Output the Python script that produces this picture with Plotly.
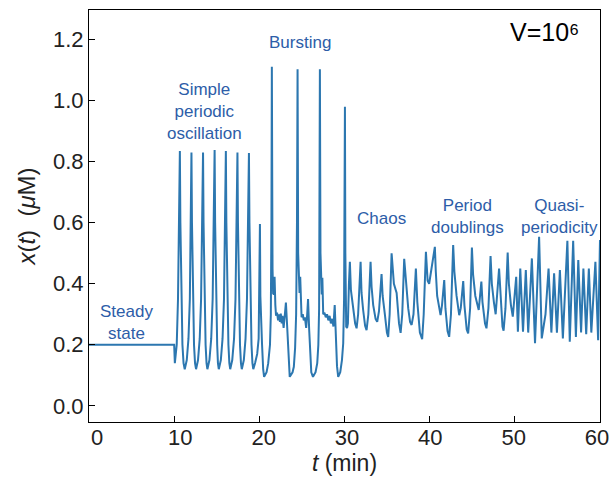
import plotly.graph_objects as go

# Time (min) and x(t) (uM) (vertices of the trace)
t_steady = [0.0, 10.0]
x_steady = [0.2, 0.2]

t_periodic = [10.08, 10.3, 10.45, 10.6, 10.67, 10.73, 10.83, 10.97, 11.1, 11.24,
              11.48, 11.68, 11.84, 11.97, 12.03, 12.09, 12.19, 12.33, 12.45, 12.57,
              12.8, 13.0, 13.16, 13.32, 13.39, 13.45, 13.55, 13.69, 13.8, 13.9,
              14.14, 14.35, 14.52, 14.68, 14.75, 14.81, 14.91, 15.05, 15.14, 15.24,
              15.48, 15.68, 15.85, 16.0, 16.07, 16.13, 16.23, 16.37, 16.48, 16.58,
              16.82, 17.03, 17.2, 17.36, 17.43, 17.49, 17.59, 17.73, 17.84, 17.94,
              18.18, 18.38, 18.55, 18.71, 18.78, 18.84, 18.94, 19.08, 19.19, 19.29]
x_periodic = [0.14, 0.2, 0.35, 0.6, 0.835, 0.6, 0.35, 0.2, 0.14, 0.12,
              0.15, 0.22, 0.35, 0.6, 0.83, 0.6, 0.35, 0.2, 0.14, 0.12,
              0.15, 0.22, 0.35, 0.6, 0.83, 0.6, 0.35, 0.2, 0.14, 0.12,
              0.15, 0.22, 0.35, 0.6, 0.838, 0.6, 0.35, 0.2, 0.14, 0.12,
              0.15, 0.22, 0.35, 0.6, 0.835, 0.6, 0.35, 0.2, 0.14, 0.12,
              0.15, 0.22, 0.35, 0.6, 0.83, 0.6, 0.35, 0.2, 0.14, 0.12,
              0.15, 0.22, 0.35, 0.6, 0.828, 0.6, 0.35, 0.2, 0.14, 0.12]

t_bursting = [19.5, 19.75, 19.92, 20.0, 20.07, 20.12, 20.17, 20.22, 20.32, 20.45, 20.56,
              20.85, 21.04, 21.25, 21.35, 21.42, 21.47, 21.55, 21.62, 21.72, 21.79, 21.88,
              21.96, 22.08, 22.2, 22.3, 22.42, 22.52, 22.62, 22.72, 22.85, 23.0, 23.12,
              23.25, 23.38, 23.47, 23.57,
              23.9, 24.05, 24.2, 24.32, 24.42, 24.49, 24.56, 24.64, 24.72, 24.8, 24.88,
              24.96, 25.1, 25.22, 25.35, 25.5, 25.62, 25.72, 25.85, 25.97, 26.1, 26.3,
              26.6, 26.8, 26.93, 27.02, 27.07, 27.11, 27.18, 27.25, 27.33, 27.4, 27.5,
              27.65, 27.8, 27.95, 28.1, 28.25, 28.4, 28.55, 28.7, 28.85, 29.0, 29.12, 29.26,
              29.5, 29.7, 29.85, 29.95, 30.0, 30.05, 30.1, 30.15, 30.2, 30.3, 30.4, 30.52]
x_bursting = [0.14, 0.17, 0.22, 0.35, 0.596, 0.36, 0.31, 0.33, 0.2, 0.12, 0.095,
              0.11, 0.139, 0.2, 0.3, 0.6, 1.111, 0.45, 0.368, 0.365, 0.423, 0.33,
              0.295, 0.305, 0.28, 0.3, 0.275, 0.302, 0.27, 0.295, 0.255, 0.3, 0.338,
              0.27, 0.19, 0.12, 0.095,
              0.11, 0.128, 0.19, 0.3, 0.6, 1.103, 0.5, 0.379, 0.37, 0.423, 0.32,
              0.29, 0.3, 0.28, 0.29, 0.255, 0.3, 0.35, 0.25, 0.16, 0.11, 0.095,
              0.11, 0.14, 0.2, 0.32, 0.6, 1.103, 0.5, 0.37, 0.365, 0.42, 0.3,
              0.305, 0.29, 0.3, 0.28, 0.295, 0.27, 0.285, 0.26, 0.33, 0.22, 0.13, 0.095,
              0.11, 0.15, 0.205, 0.35, 0.6, 0.98, 0.5, 0.3, 0.259, 0.255, 0.27, 0.4]

t_chaos = [30.63, 30.75, 31.02, 31.25, 31.42, 31.6, 31.89, 32.0, 32.19, 32.42, 32.59, 32.8,
           33.06, 33.18, 33.37, 33.65, 33.84, 34.05, 34.35, 34.48, 34.74, 34.98, 35.13, 35.3,
           35.53, 35.8, 36.12, 36.4, 36.59, 36.78, 37.01, 37.29, 37.48, 37.7, 37.88, 38.1,
           38.38, 38.55, 38.85, 39.12, 39.3, 39.56, 39.76, 39.94, 40.25, 40.61, 40.72, 40.88,
           41.28, 41.45, 41.71, 41.85, 42.1, 42.29, 42.5, 42.76, 42.9, 43.16, 43.47, 43.65,
           43.94, 44.08, 44.35, 44.52, 44.75]
x_chaos = [0.472, 0.38, 0.314, 0.27, 0.254, 0.3, 0.472, 0.37, 0.314, 0.262, 0.248, 0.3,
           0.472, 0.39, 0.33, 0.285, 0.275, 0.31, 0.432, 0.36, 0.3, 0.24, 0.226, 0.3,
           0.5, 0.4, 0.37, 0.27, 0.239, 0.3, 0.482, 0.38, 0.32, 0.275, 0.265, 0.3,
           0.45, 0.34, 0.24, 0.218, 0.3, 0.505, 0.41, 0.40, 0.45, 0.521, 0.44, 0.36,
           0.297, 0.33, 0.412, 0.32, 0.245, 0.226, 0.3, 0.527, 0.44, 0.36, 0.297, 0.32,
           0.409, 0.33, 0.25, 0.237, 0.32]

t_quasi = [44.96, 45.1, 45.36, 45.76, 46.07, 46.2, 46.5, 46.67, 46.9, 47.15,
           47.3, 47.54, 47.75, 48.15, 48.3, 48.55, 48.68, 48.9, 49.16, 49.3,
           49.54, 49.76, 50.16, 50.36, 50.64, 50.96, 51.29, 51.57, 52.0, 52.37,
           52.85, 53.16, 53.6, 53.96, 54.29, 54.61, 54.94, 55.29, 55.64, 56.17,
           56.45, 56.85, 57.17, 57.45, 57.78, 58.05, 58.38, 58.69, 58.98, 59.46,
           59.78, 60.0]
x_quasi = [0.519, 0.43, 0.36, 0.314, 0.407, 0.34, 0.27, 0.254, 0.32, 0.491,
           0.4, 0.34, 0.3, 0.45, 0.36, 0.26, 0.246, 0.32, 0.502, 0.4,
           0.33, 0.292, 0.423, 0.243, 0.45, 0.243, 0.445, 0.24, 0.483, 0.205,
           0.554, 0.221, 0.3, 0.45, 0.24, 0.434, 0.24, 0.445, 0.221, 0.541,
           0.21, 0.541, 0.226, 0.478, 0.24, 0.45, 0.235, 0.45, 0.24, 0.472,
           0.215, 0.543]

t_all = t_steady + t_periodic + t_bursting + t_chaos + t_quasi
x_all = x_steady + x_periodic + x_bursting + x_chaos + x_quasi

x_ticks = [0, 10, 20, 30, 40, 50, 60]
y_ticks = [0.0, 0.2, 0.4, 0.6, 0.8, 1.0, 1.2]

regime_labels = ["Steady<br>state", "Simple<br>periodic<br>oscillation", "Bursting",
                 "Chaos", "Period<br>doublings", "Quasi-<br>periodicity"]
label_t = [4.45, 13.6, 24.75, 34.4, 44.5, 55.3]
label_x = [0.274, 0.966, 1.192, 0.615, 0.622, 0.622]

LINE = "#2c77b0"
TXT = "#2d5da8"
FONT = "Liberation Sans, Arial, Helvetica, sans-serif"

fig = go.Figure()
fig.add_trace(go.Scatter(x=t_all, y=x_all, mode="lines",
                         line=dict(color=LINE, width=2), hoverinfo="skip",
                         showlegend=False))
# empty trace so the label axis (x2) is drawn
fig.add_trace(go.Scatter(x=[], y=[], xaxis="x2", yaxis="y", mode="lines",
                         hoverinfo="skip", showlegend=False))

for txt, tx, yx in zip(regime_labels, label_t, label_x):
    fig.add_annotation(x=tx, y=yx, xref="x", yref="y", text=txt, showarrow=False,
                       font=dict(family=FONT, size=17, color=TXT), align="center")

fig.add_annotation(x=53.5, y=1.225, xref="x", yref="y", text="V=10⁶", showarrow=False,
                   font=dict(family=FONT, size=25, color="black"))

axis_common = dict(showline=True, linecolor="black", linewidth=1.2, mirror=True,
                   ticks="inside", ticklen=6, tickwidth=1.2, tickcolor="black",
                   showgrid=False, zeroline=False, automargin=False,
                   ticklabeloverflow="allow",
                   tickfont=dict(family=FONT, size=22, color="#222"))

# main x axis: ticks only
fig.update_xaxes(range=[0, 60], tickvals=x_ticks, showticklabels=False, **axis_common)

# label axis: the reference's tick labels sit on a slightly narrower spacing
fig.update_layout(xaxis2=dict(
    overlaying="x", anchor="y", side="bottom", range=[-0.96, 60.36],
    tickvals=x_ticks, ticks="", showline=False, showgrid=False, zeroline=False,
    automargin=False, ticklabeloverflow="allow",
    tickfont=dict(family=FONT, size=22, color="#222"),
    title=dict(text="<i>t</i> (min)", standoff=0,
               font=dict(family=FONT, size=23, color="#222"))))

fig.update_yaxes(range=[-0.053, 1.297], tickvals=y_ticks, tickformat=".1f",
                 title=dict(text="<i>x</i>(<i>t</i>)  (<i>μ</i>M)", standoff=10,
                            font=dict(family=FONT, size=24, color="#222")),
                 **axis_common)

fig.update_layout(width=611, height=479, plot_bgcolor="white", paper_bgcolor="white",
                  margin=dict(l=89, r=11, t=10, b=57))

# remove the page's default body margin so the 611x479 figure fills the window
fig.write_html("out.html", config={"displayModeBar": False},
               post_script="document.body.style.margin='0';"
                           "document.body.style.overflow='hidden';")
